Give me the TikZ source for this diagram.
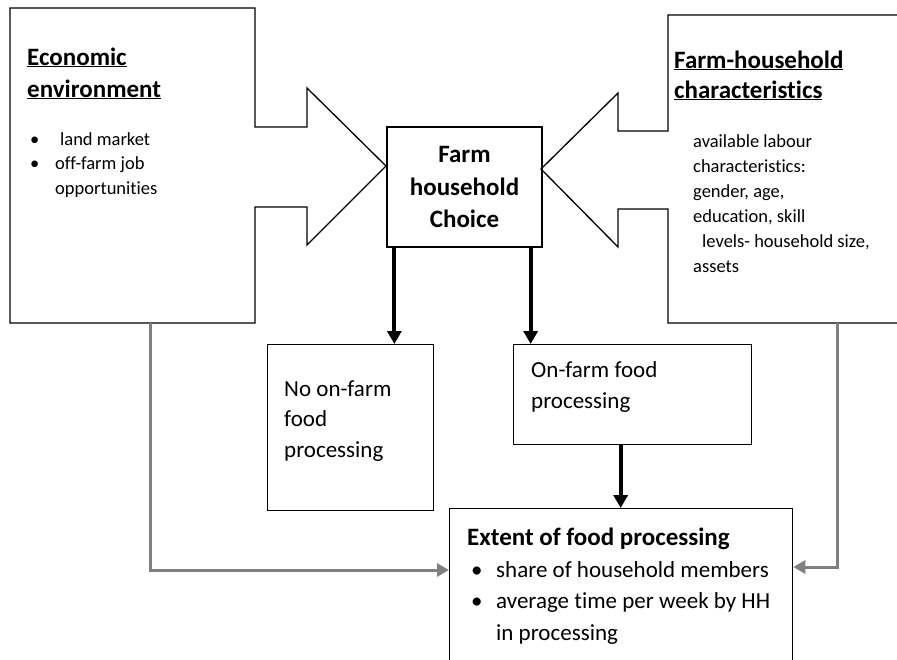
\documentclass[tikz,border=0pt]{standalone}
\usepackage{fontspec}
\setmainfont{Carlito}[Ligatures=NoCommon]
\usetikzlibrary{arrows.meta}
\begin{document}
\begin{tikzpicture}[x=1pt,y=-1pt,
  outline/.style={draw=black, line width=1.3pt},
  blk/.style={draw=black, line width=4pt, -{Triangle[width=14pt,length=13pt]}},
  gry/.style={draw=gray, line width=3pt, -{Triangle[width=13pt,length=12pt]}},
  head/.style={font=\fontsize{25}{32}\selectfont\bfseries, anchor=base west, inner sep=0pt, align=left},
  small/.style={font=\fontsize{18.5}{24.5}\selectfont, anchor=base west, inner sep=0pt, align=left},
  body/.style={font=\fontsize{23}{30.5}\selectfont, anchor=base west, inner sep=0pt, align=left}]
\useasboundingbox (0,0) rectangle (897,659);
\clip (0,0) rectangle (897,659);

% left input shape
\draw[outline] (10,8) -- (255,8) -- (255,127) -- (307,127) -- (307,88) -- (386,166)
  -- (307,245) -- (307,207) -- (255,207) -- (255,323) -- (10,323) -- cycle;
% right input shape
\draw[outline] (910,15) -- (668,15) -- (668,131) -- (618,131) -- (618,93) -- (541,169)
  -- (618,247) -- (618,209) -- (668,209) -- (668,323) -- (910,323);

% central box
\node[outline, minimum width=155pt, minimum height=120pt, inner sep=0pt,
  font=\fontsize{25}{32.5}\selectfont\bfseries, align=center] (choice) at (464.5,187)
  {Farm\\household\\Choice};

% outcome boxes
\node[outline, minimum width=166pt, minimum height=166pt, anchor=north west] (noproc) at (267,344) {};
\node[outline, minimum width=238pt, minimum height=100pt, anchor=north west] (onproc) at (513,344) {};
\node[outline, minimum width=343pt, minimum height=180pt, anchor=north west] (extent) at (449,508) {};

% texts (anchored at the baseline of the last line)
\node[head] (econ) at (27,97) {\underline{Economic}\\\underline{environment}};
\node[small] (econlist) at (30,194)
  {\makebox[30pt][l]{\textbullet}land market\\\makebox[25pt][l]{\textbullet}off-farm job\\\hspace*{25pt}opportunities};
\node[head, font=\fontsize{25}{30}\selectfont\bfseries] (hh) at (674,98)
  {\underline{Farm-household}\\\underline{characteristics}};
\node[small, font=\fontsize{18.5}{25}\selectfont] (hhlist) at (693,272)
  {available labour\\characteristics:\\gender, age,\\education, skill\\\hspace*{9pt}levels- household size,\\assets};
\node[body] (notext) at (284,457) {No on-farm\\food\\processing};
\node[body, font=\fontsize{23}{31}\selectfont] (ontext) at (531,408) {On-farm food\\processing};
\node[head] (exthead) at (467,545) {Extent of food processing};
\node[body, font=\fontsize{23}{31.5}\selectfont] (extlist) at (471,640)
  {\makebox[25pt][l]{\textbullet}share of household members\\\makebox[25pt][l]{\textbullet}average time per week by HH\\\hspace*{25pt}in processing};

% black arrows
\draw[blk] ([xshift=8pt]choice.south west) -- ([xshift=8pt]choice.south west |- noproc.north);
\draw[blk] ([xshift=-12pt]choice.south east) -- ([xshift=-12pt]choice.south east |- onproc.north);
\draw[blk] ([xshift=-12pt]onproc.south) -- ([xshift=-12pt]onproc.south |- extent.north);

% gray arrows
\coordinate (lg) at (150,323);
\coordinate (rg) at (837,323);
\draw[gry] (lg) |- ([yshift=-62pt]extent.north west);
\draw[gry] (rg) |- ([yshift=-59pt]extent.north east);
\end{tikzpicture}
\end{document}
